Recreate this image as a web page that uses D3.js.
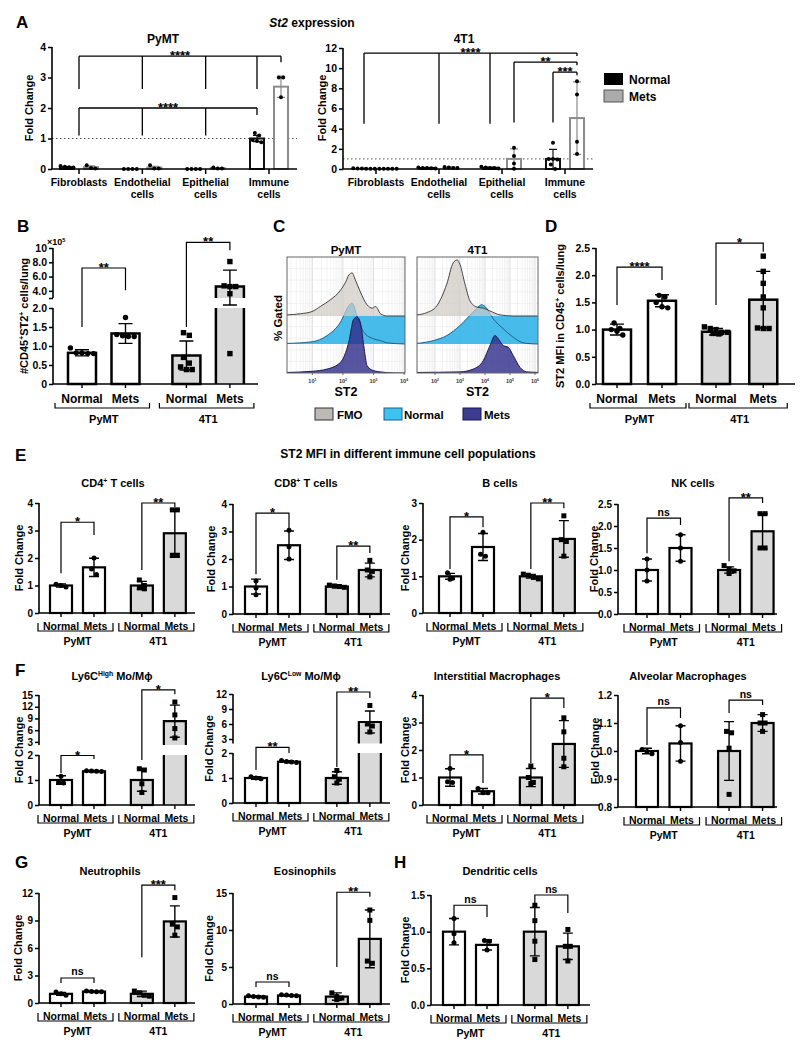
<!DOCTYPE html>
<html>
<head>
<meta charset="utf-8">
<script src="https://cdn.jsdelivr.net/npm/d3@7"></script>
<style>
  body { margin: 0; background: #fff; }
  svg text { font-family: "Liberation Sans", Arial, sans-serif; font-weight: bold; }
</style>
</head>
<body>
<svg id="fig" width="800" height="1053"></svg>
<script>
// ---------------- data ----------------
// A: St2 expression, fold change per cell type
let aCats = ["Fibroblasts", "Endothelial cells", "Epithelial cells", "Immune cells"];
let aPymtNormalMean = [0.06, 0, 0, 1.0];
let aPymtNormalSd = [0.02, 0, 0, 0.1];
let aPymtNormalPts = [[0.05, 0.1, 0.06, 0.07], [0, 0, 0, 0], [0, 0, 0, 0], [0.95, 1.1, 1.18, 0.88, 0.92]];
let aPymtMetsMean = [0.06, 0.05, 0.03, 2.7];
let aPymtMetsSd = [0.04, 0.04, 0.01, 0.35];
let aPymtMetsPts = [[0.03, 0.12, 0.02], [0.02, 0.12, 0.02], [0.02, 0.05, 0.02], [3.0, 3.0, 2.35]];
let a4t1NormalMean = [0.04, 0.1, 0.12, 1.0];
let a4t1NormalSd = [0.02, 0.04, 0.05, 0.95];
let a4t1NormalPts = [[0.05, 0.08, 0.03, 0.02, 0.04, 0.03], [0.1, 0.15, 0.1, 0.08, 0.05], [0.15, 0.22, 0.1, 0.1, 0.05], [2.6, 1.0, 1.0, 0.95, 0.45, 0.0]];
let a4t1MetsMean = [0.02, 0.14, 1.0, 5.05];
let a4t1MetsSd = [0.01, 0.05, 1.0, 3.6];
let a4t1MetsPts = [[0.02, 0.03, 0.02, 0.02, 0.03], [0.1, 0.2, 0.15, 0.1], [2.1, 1.3, 0.55, 0.02], [8.7, 7.4, 2.7, 1.5]];
let aPymtTicks = [0, 1, 2, 3, 4];
let a4t1Ticks = [0, 2, 4, 6, 8, 10, 12];
// legs: [category, side (-1 normal, 0 centre, 1 mets), leg end value]
let aPymtSig = [
  {label: "****", line: 3.7, legs: [[0, 0, 2.62], [1, 0, 2.62], [2, 0, 2.62], [3, -1, 2.62], [3, 1, 3.5]]},
  {label: "****", line: 2.0, legs: [[0, 0, 1.1], [1, 0, 1.1], [2, 0, 1.1], [3, -1, 1.77]]}
];
let a4t1Sig = [
  {label: "****", line: 11.5, legs: [[0, -1, 4.5], [1, 0, 4.5], [2, -1, 4.5], [3, 1, 11.2]]},
  {label: "**", line: 10.6, legs: [[2, 1, 4.6], [3, 1, 10.3]]},
  {label: "***", line: 9.6, legs: [[3, -1, 4.6], [3, 1, 9.3]]}
];

// bar groups: PyMT Normal, PyMT Mets, 4T1 Normal, 4T1 Mets
let conds = ["Normal", "Mets", "Normal", "Mets"];
let models = ["PyMT", "4T1"];

// B: #CD45+ST2+ cells/lung (x10^5)
let bMean = [0.82, 1.33, 0.75, 4.6];
let bSd = [0.08, 0.26, 0.38, 2.3];
let bPts = [[0.95, 0.82, 0.8, 0.8, 0.82], [1.75, 1.25, 1.25, 1.27, 1.3], [1.35, 1.28, 0.7, 0.55, 0.45, 0.38, 0.38], [8.1, 4.7, 4.6, 4.6, 3.6, 0.8]];
let bLowTicks = [0, 0.5, 1, 1.5, 2];
let bHighTicks = [3, 4, 6, 8, 10];
let bSig = [{pair: [0, 1], line: 7.2, ends: [1.5, 4.1], label: "**"}, {pair: [2, 3], line: 10.8, ends: [1.5, 9.7], label: "**"}];

// C: ST2 histograms, [log10 ST2, % of max]
let pymtFmo = [[0.17, 2], [0.61, 4], [0.99, 8], [1.26, 17], [1.59, 29], [1.92, 46], [2.1, 62], [2.19, 73], [2.3, 77], [2.41, 64], [2.57, 43], [2.79, 20], [2.96, 14], [3.07, 17], [3.23, 4], [3.45, 0], [4.05, 0]];
let pymtNormal = [[0.17, 1], [0.99, 4], [1.48, 15], [1.92, 39], [2.19, 68], [2.3, 73], [2.46, 50], [2.68, 21], [3.01, 9], [3.23, 6], [3.45, 2], [4.05, 0]];
let pymtMets = [[0.17, 1], [0.99, 3], [1.48, 7], [1.92, 19], [2.19, 55], [2.35, 96], [2.46, 100], [2.57, 90], [2.68, 49], [2.79, 13], [3.01, 4], [3.23, 2], [3.67, 0], [4.05, 0]];
let t1Fmo = [[1.27, 2], [1.67, 6], [2.07, 18], [2.47, 57], [2.73, 95], [2.89, 100], [3.0, 92], [3.2, 57], [3.4, 27], [3.67, 16], [3.93, 14], [4.2, 9], [4.6, 2], [5.13, 0], [6.15, 0]];
let t1Normal = [[1.27, 1], [1.93, 6], [2.47, 15], [3.0, 33], [3.53, 57], [3.87, 70], [4.0, 67], [4.33, 45], [4.73, 27], [5.13, 12], [5.4, 4], [5.67, 1], [6.15, 0]];
let t1Mets = [[1.27, 1], [3.0, 2], [3.53, 7], [3.93, 22], [4.2, 49], [4.4, 67], [4.53, 61], [4.73, 49], [4.93, 46], [5.13, 31], [5.4, 10], [5.67, 2], [6.15, 1]];
let pymtDecades = [1, 2, 3, 4];
let t1Decades = [2, 3, 4, 5, 6];

// D: ST2 MFI in CD45+ cells/lung
let dMean = [1.0, 1.53, 0.96, 1.55];
let dSd = [0.1, 0.11, 0.06, 0.52];
let dPts = [[1.12, 1.02, 1.0, 0.9, 0.97], [1.63, 1.6, 1.5, 1.4, 1.42], [1.05, 1.02, 1.0, 0.93, 0.92, 0.95, 0.95], [2.35, 2.07, 1.85, 1.6, 1.4, 1.03, 1.02, 1.02]];
let dTicks = [0, 0.5, 1, 1.5, 2, 2.5];
let dSig = [{pair: [0, 1], line: 2.15, ends: [1.45, 1.91], label: "****"}, {pair: [2, 3], line: 2.59, ends: [1.45, 2.43], label: "*"}];

// E: ST2 MFI fold change
let cd4Mean = [1.0, 1.66, 1.0, 2.9];
let cd4Sd = [0.06, 0.33, 0.15, 0.87];
let cd4Pts = [[1.05, 0.95, 1.0], [2.0, 1.6, 1.4], [1.2, 1.0, 0.92, 0.88], [3.75, 3.75, 2.1, 2.1]];
let cd4Sig = [{pair: [0, 1], line: 3.3, ends: [1.45, 2.84], label: "*"}, {pair: [2, 3], line: 4.0, ends: [1.56, 3.85], label: "**"}];
let cd8Mean = [1.0, 2.5, 1.0, 1.6];
let cd8Sd = [0.27, 0.52, 0.05, 0.25];
let cd8Pts = [[1.2, 0.95, 0.7], [3.05, 2.45, 2.0], [1.05, 1.0, 0.97, 1.02], [1.95, 1.6, 1.55, 1.35]];
let cd8Sig = [{pair: [0, 1], line: 3.67, ends: [1.45, 3.13], label: "*"}, {pair: [2, 3], line: 2.47, ends: [1.25, 2.22], label: "**"}];
let bcMean = [1.0, 1.8, 1.0, 2.02];
let bcSd = [0.08, 0.37, 0.05, 0.5];
let bcPts = [[1.1, 0.95, 0.92], [2.2, 1.6, 1.55], [1.06, 1.03, 0.97, 0.93], [2.65, 2.0, 1.95, 1.55]];
let bcSig = [{pair: [0, 1], line: 2.62, ends: [1.2, 2.34], label: "*"}, {pair: [2, 3], line: 3.0, ends: [1.2, 2.86], label: "**"}];
let nkMean = [1.0, 1.5, 1.0, 1.88];
let nkSd = [0.25, 0.3, 0.07, 0.4];
let nkPts = [[1.25, 1.0, 0.75], [1.8, 1.5, 1.2], [1.1, 1.02, 0.98, 0.92], [2.28, 2.28, 1.5, 1.5]];
let nkSig = [{pair: [0, 1], line: 2.18, ends: [1.38, 2.02], label: "ns"}, {pair: [2, 3], line: 2.64, ends: [1.2, 2.52], label: "**"}];

// F
let hiMean = [1.0, 1.35, 1.0, 8.3];
let hiSd = [0.17, 0.03, 0.45, 4.1];
let hiPts = [[1.15, 0.9, 0.88], [1.37, 1.35, 1.34, 1.36], [1.45, 1.4, 0.85, 0.5], [13.2, 9.9, 6.4, 4.0]];
let hiSig = [{pair: [0, 1], line: 1.98, ends: [1.28, 1.84], label: "*"}, {pair: [2, 3], line: 16.3, ends: [1.8, 15.2], label: "*"}];
let loMean = [1.0, 1.65, 1.0, 6.4];
let loSd = [0.05, 0.04, 0.25, 2.2];
let loPts = [[1.05, 1.0, 0.97], [1.7, 1.66, 1.64, 1.62], [1.3, 1.05, 0.95, 0.8], [9.7, 6.0, 5.6, 4.4]];
let loSig = [{pair: [0, 1], line: 2.06, ends: [1.32, 2.0], label: "**"}, {pair: [2, 3], line: 12.4, ends: [1.44, 11.2], label: "**"}];
let imMean = [1.0, 0.5, 1.0, 2.22];
let imSd = [0.32, 0.1, 0.33, 0.85];
let imPts = [[1.33, 0.85, 0.82], [0.6, 0.45, 0.45], [1.42, 1.0, 0.82, 0.78], [3.17, 2.66, 1.7, 1.39]];
let imSig = [{pair: [0, 1], line: 1.82, ends: [1.38, 0.8], label: "*"}, {pair: [2, 3], line: 3.89, ends: [1.53, 3.53], label: "*"}];
let amMean = [1.0, 1.027, 1.0, 1.1];
let amSd = [0.01, 0.063, 0.105, 0.03];
let amPts = [[1.005, 0.998, 0.99], [1.09, 1.03, 0.963], [1.07, 1.065, 1.01, 0.845], [1.13, 1.1, 1.1, 1.07]];
let amSig = [{pair: [0, 1], line: 1.154, ends: [1.021, 1.118], label: "ns"}, {pair: [2, 3], line: 1.182, ends: [1.136, 1.164], label: "ns"}];

// G, H
let neMean = [1.0, 1.25, 1.0, 8.9];
let neSd = [0.15, 0.05, 0.3, 1.7];
let nePts = [[1.2, 1.0, 0.85], [1.3, 1.26, 1.24, 1.22], [1.3, 1.1, 0.85, 0.75], [11.5, 8.6, 8.3, 7.4]];
let neSig = [{pair: [0, 1], line: 2.73, ends: [2.18, 2.18], label: "ns"}, {pair: [2, 3], line: 12.87, ends: [5.0, 12.3], label: "***"}];
let eoMean = [1.0, 1.15, 1.0, 8.8];
let eoSd = [0.1, 0.08, 0.5, 3.9];
let eoPts = [[1.1, 1.0, 0.95, 0.9], [1.25, 1.2, 1.15, 1.1], [1.5, 1.0, 0.8, 0.6], [12.7, 11.3, 5.8, 5.5]];
let eoSig = [{pair: [0, 1], line: 2.97, ends: [2.3, 2.3], label: "ns"}, {pair: [2, 3], line: 15.1, ends: [5.0, 14.5], label: "**"}];
let dcMean = [1.0, 0.82, 1.0, 0.8];
let dcSd = [0.18, 0.07, 0.33, 0.18];
let dcPts = [[1.18, 0.97, 0.85], [0.88, 0.87, 0.75], [1.36, 1.15, 0.87, 0.62], [1.03, 0.8, 0.8, 0.6]];
let dcSig = [{pair: [0, 1], line: 1.36, ends: [1.2, 1.2], label: "ns"}, {pair: [2, 3], line: 1.5, ends: [1.39, 1.255], label: "ns"}];

// ---------------- helpers ----------------
const svg = d3.select("#fig");

// text with ^sup^ markup
function label(g, x, y, str, size, anchor) {
  const t = g.append("text").attr("x", x).attr("y", y)
    .attr("font-size", size).attr("text-anchor", anchor || "middle");
  str.split("^").forEach((part, i) => {
    if (!part) return;
    const sp = t.append("tspan").text(part);
    if (i % 2) sp.attr("font-size", size * 0.62).attr("dy", -size * 0.38);
    else if (i > 0) sp.attr("dy", size * 0.38);
  });
  return t;
}

// spread points of similar height sideways
function swarm(vals, y, cx, r, step) {
  const pts = vals.map(v => ({v: v, py: y(v)})).sort((a, b) => a.py - b.py);
  let rows = [], cur = [];
  pts.forEach(p => {
    if (cur.length && p.py - cur[0].py > 2 * r + 0.6) { rows.push(cur); cur = []; }
    cur.push(p);
  });
  if (cur.length) rows.push(cur);
  rows.forEach(row => row.forEach((p, j) => { p.px = cx + (j - (row.length - 1) / 2) * step; }));
  return pts;
}

function mark(g, p, square, r) {
  if (square) g.append("rect").attr("x", p.px - r).attr("y", p.py - r).attr("width", 2 * r).attr("height", 2 * r).attr("fill", "#000");
  else g.append("circle").attr("cx", p.px).attr("cy", p.py).attr("r", r).attr("fill", "#000");
}

function sigText(g, x, lineY, s) {
  const star = s !== "ns";
  return label(g, x, lineY + (star ? 4 : -2.5), s, star ? 13 : 10.5).attr("font-weight", star ? "bold" : "normal");
}

function yAxis(g, y, axisX, segs, fs) {
  segs.forEach(s => {
    const ax = g.append("g").attr("transform", "translate(" + axisX + ",0)")
      .call(d3.axisLeft(y).tickValues(s.ticks).tickFormat(s.fmt).tickSize(4).tickPadding(2));
    ax.attr("font-size", fs);
    ax.select(".domain").remove();
    ax.selectAll("line").attr("stroke-width", 1.5);
    g.append("line").attr("x1", axisX).attr("x2", axisX).attr("y1", y(s.from)).attr("y2", y(s.to))
      .attr("stroke", "#000").attr("stroke-width", 1.6);
  });
}

// ---------------- panel A ----------------
function panelA(o) {
  const g = svg.append("g");
  const y = d3.scaleLinear().domain([0, o.yMax]).range([169, o.yTop]);
  const x = d3.scalePoint().domain(aCats).range(o.catRange);
  const off = 12, bw = 14;
  const pos = (c, s) => x(aCats[c]) + s * off;

  g.append("line").attr("x1", o.axisX).attr("x2", o.xEnd).attr("y1", y(1)).attr("y2", y(1))
    .attr("stroke", "#555").attr("stroke-width", 1).attr("stroke-dasharray", "1.5,2.5");

  const series = [
    {mean: o.nMean, sd: o.nSd, pts: o.nPts, side: -1, color: "#111"},
    {mean: o.mMean, sd: o.mSd, pts: o.mPts, side: 1, color: "#8c8c8c"}
  ];
  series.forEach(s => {
    s.mean.forEach((m, c) => {
      const cx = pos(c, s.side);
      if (y(0) - y(m) > 0.5)
        g.append("rect").attr("x", cx - bw / 2).attr("y", y(m)).attr("width", bw).attr("height", y(0) - y(m))
          .attr("fill", "#fff").attr("stroke", s.color).attr("stroke-width", 2);
      const lo = y(Math.max(0, m - s.sd[c])), hi = y(m + s.sd[c]);
      g.append("path").attr("d", `M${cx},${lo}V${hi}M${cx - 4},${hi}H${cx + 4}M${cx - 4},${lo}H${cx + 4}`)
        .attr("stroke", s.color).attr("stroke-width", 1.2).attr("fill", "none");
      swarm(s.pts[c], y, cx, 2, 4.3).forEach(p => mark(g, p, false, 2));
    });
  });

  yAxis(g, y, o.axisX, [{from: 0, to: o.yMax, ticks: o.ticks, fmt: d3.format("d")}], 10.5);
  g.append("line").attr("x1", o.axisX).attr("x2", o.xEnd).attr("y1", y(0)).attr("y2", y(0))
    .attr("stroke", "#000").attr("stroke-width", 1.6);
  aCats.forEach(c => {
    g.append("line").attr("x1", x(c)).attr("x2", x(c)).attr("y1", y(0)).attr("y2", y(0) + 5)
      .attr("stroke", "#000").attr("stroke-width", 1.5);
    const words = c.split(" ");
    label(g, x(c), 186, words[0], 10.5);
    if (words.length > 1) label(g, x(c), 198, words.slice(1).join(" "), 10.5);
  });

  o.sig.forEach(s => {
    const xs = s.legs.map(l => pos(l[0], l[1]));
    let d = `M${d3.min(xs)},${y(s.line)}H${d3.max(xs)}`;
    s.legs.forEach((l, i) => { d += `M${xs[i]},${y(s.line)}V${y(l[2])}`; });
    g.append("path").attr("d", d).attr("stroke", "#000").attr("stroke-width", 1.3).attr("fill", "none");
    sigText(g, (d3.min(xs) + d3.max(xs)) / 2, y(s.line), s.label);
  });

  label(g, o.titleX, 43, o.title, 12);
  label(g, 0, 0, "Fold Change", 11).attr("transform", `translate(${o.yLabX},108) rotate(-90)`);
}

// ---------------- bar panels B, D, E-H ----------------
function barPanel(o) {
  const g = svg.append("g");
  const y = d3.scaleLinear().domain(o.yDomain).range(o.yRange);
  const slots = o.slots || [0, 1, 2.45, 3.45];
  const x = d3.scaleLinear().domain([0, 1]).range([o.x0, o.x0 + o.unit]);
  const cx = slots.map(s => x(s));
  const y0 = y(o.yDomain[0]);
  const bw = o.barW || 22, sw = o.sw || 2.2, cap = o.cap || 5, r = o.r || 2.5, step = o.step || 5;
  const brk = o.breakAt;

  o.mean.forEach((m, i) => {
    const fill = i < 2 ? "#fff" : "#d9d9d9";
    const x1 = cx[i] - bw / 2;
    if (brk && m > brk[1]) {
      g.append("rect").attr("x", x1).attr("width", bw).attr("y", y(brk[0])).attr("height", y0 - y(brk[0])).attr("fill", fill);
      g.append("rect").attr("x", x1).attr("width", bw).attr("y", y(m)).attr("height", y(brk[1]) - y(m)).attr("fill", fill);
      g.append("path")
        .attr("d", `M${x1},${y0}V${y(brk[0])}M${x1 + bw},${y(brk[0])}V${y0}M${x1},${y(brk[1])}V${y(m)}H${x1 + bw}V${y(brk[1])}`)
        .attr("fill", "none").attr("stroke", "#000").attr("stroke-width", sw);
    } else {
      g.append("rect").attr("x", x1).attr("width", bw).attr("y", y(m)).attr("height", y0 - y(m))
        .attr("fill", fill).attr("stroke", "#000").attr("stroke-width", sw);
    }
  });

  o.mean.forEach((m, i) => {
    const lo = y(m - o.sd[i]), hi = y(m + o.sd[i]), c = cx[i];
    g.append("path").attr("d", `M${c},${lo}V${hi}M${c - cap},${hi}H${c + cap}M${c - cap},${lo}H${c + cap}`)
      .attr("stroke", "#000").attr("stroke-width", 1.4).attr("fill", "none");
  });
  o.pts.forEach((vals, i) => swarm(vals, y, cx[i], r, step).forEach(p => mark(g, p, i >= 2, r)));

  yAxis(g, y, o.axisX, o.segs, o.tickFs || 10);
  g.append("line").attr("x1", o.axisX).attr("x2", o.xEnd).attr("y1", y0).attr("y2", y0)
    .attr("stroke", "#000").attr("stroke-width", 1.6);
  cx.forEach(c => g.append("line").attr("x1", c).attr("x2", c).attr("y1", y0).attr("y2", y0 + 4)
    .attr("stroke", "#000").attr("stroke-width", 1.4));

  const lab = o.lab || [16.5, 18, 10, 32];
  const fs = o.fs || 10.5;
  conds.forEach((c, i) => label(g, cx[i] + (o.labShift || [0, 1.5, 0, 1.5])[i], y0 + lab[0], c, fs));
  const ext = o.ext || [23, 19];
  models.forEach((m, k) => {
    const a = cx[2 * k] - ext[0], b = cx[2 * k + 1] + ext[1];
    g.append("path").attr("d", `M${a},${y0 + lab[2]}V${y0 + lab[1]}H${b}V${y0 + lab[2]}`)
      .attr("stroke", "#000").attr("stroke-width", 1.2).attr("fill", "none");
    label(g, (cx[2 * k] + cx[2 * k + 1]) / 2, y0 + lab[3], m, o.gfs || 10.5);
  });

  o.sig.forEach(s => {
    const xa = cx[s.pair[0]], xb = cx[s.pair[1]];
    g.append("path").attr("d", `M${xa},${y(s.ends[0])}V${y(s.line)}H${xb}V${y(s.ends[1])}`)
      .attr("stroke", "#000").attr("stroke-width", 1.2).attr("fill", "none");
    sigText(g, (xa + xb) / 2, y(s.line), s.label);
  });

  if (o.title) label(g, o.titleX, o.titleY, o.title, o.titleFs || 11);
  const ym = (o.yRange[0] + o.yRange[o.yRange.length - 1]) / 2;
  label(g, 0, 0, o.yLabel || "Fold Change", o.yLabFs || 11).attr("transform", `translate(${o.yLabX},${ym}) rotate(-90)`);
}

// ---------------- panel C ----------------
function histPanel(o) {
  const g = svg.append("g");
  const x = d3.scaleLinear().domain(o.dom).range([o.x1, o.x2]);
  const h = d3.scaleLinear().domain([0, 100]).range([0, 56]);
  const top = 257, bot = 373, bases = [316, 344, 373];
  const id = "clip" + o.key;
  g.append("clipPath").attr("id", id).append("rect")
    .attr("x", o.x1).attr("y", top).attr("width", o.x2 - o.x1).attr("height", bot - top);
  const inner = g.append("g").attr("clip-path", `url(#${id})`);
  // log grid
  for (let k = Math.floor(o.dom[0]); k <= Math.ceil(o.dom[1]); k++) {
    for (let m = 1; m <= 9; m++) {
      const e = k + Math.log10(m);
      if (e < o.dom[0] || e > o.dom[1]) continue;
      inner.append("line").attr("x1", x(e)).attr("x2", x(e)).attr("y1", top).attr("y2", bot)
        .attr("stroke", m === 1 ? "#d0d0d0" : "#ececec").attr("stroke-width", 0.7);
    }
  }
  d3.range(1, 10).forEach(j => {
    const yy = top + j * (bot - top) / 10;
    inner.append("line").attr("x1", o.x1).attr("x2", o.x2).attr("y1", yy).attr("y2", yy)
      .attr("stroke", "#ececec").attr("stroke-width", 0.7);
  });

  const curve = d3.curveMonotoneX;
  // Normal
  const nb = bases[1];
  const peak = d3.maxIndex(o.normal, d => d[1]);
  inner.append("path").datum(o.normal)
    .attr("d", d3.area().x(d => x(d[0])).y0(nb)
      .y1((d, i) => i >= peak ? Math.min(nb - h(d[1]), bases[0]) : nb - h(d[1])).curve(curve))
    .attr("fill", "#33b5e8").attr("fill-opacity", 0.9);
  inner.append("path").datum(o.normal)
    .attr("d", d3.line().x(d => x(d[0])).y(d => nb - h(d[1])).curve(curve))
    .attr("fill", "none").attr("stroke", "#1d5f8c").attr("stroke-width", 1);
  // FMO
  inner.append("path").datum(o.fmo)
    .attr("d", d3.area().x(d => x(d[0])).y0(bases[0]).y1(d => bases[0] - h(d[1])).curve(curve))
    .attr("fill", "#cfcbc4").attr("fill-opacity", 0.7);
  inner.append("path").datum(o.fmo)
    .attr("d", d3.line().x(d => x(d[0])).y(d => bases[0] - h(d[1])).curve(curve))
    .attr("fill", "none").attr("stroke", "#333").attr("stroke-width", 0.9);
  // Mets
  inner.append("path").datum(o.mets)
    .attr("d", d3.area().x(d => x(d[0])).y0(bases[2]).y1(d => bases[2] - h(d[1])).curve(curve))
    .attr("fill", "#2e2a8a").attr("fill-opacity", 0.8);
  inner.append("path").datum(o.mets)
    .attr("d", d3.line().x(d => x(d[0])).y(d => bases[2] - h(d[1])).curve(curve))
    .attr("fill", "none").attr("stroke", "#1a1850").attr("stroke-width", 1);

  g.append("rect").attr("x", o.x1).attr("y", top).attr("width", o.x2 - o.x1).attr("height", bot - top)
    .attr("fill", "none").attr("stroke", "#666").attr("stroke-width", 1);
  o.decades.forEach(e => {
    g.append("line").attr("x1", x(e)).attr("x2", x(e)).attr("y1", bot).attr("y2", bot + 2).attr("stroke", "#666");
    label(g, x(e), 383, "10^" + e + "^", 5.5).attr("font-weight", "normal").attr("fill", "#333");
  });
  label(g, (o.x1 + o.x2) / 2, 254, o.title, 11.5);
  label(g, (o.x1 + o.x2) / 2, 396, "ST2", 12.5);
}

// ---------------- draw ----------------
// headers / panel letters
label(svg, 16, 28, "A", 17, "start");
const st2 = svg.append("text").attr("x", 312).attr("y", 27).attr("font-size", 12).attr("text-anchor", "middle");
st2.append("tspan").attr("font-style", "italic").text("St2");
st2.append("tspan").text(" expression");
label(svg, 17, 232, "B", 17, "start");
label(svg, 273, 232, "C", 17, "start");
label(svg, 545, 232, "D", 17, "start");
label(svg, 15, 461, "E", 17, "start");
label(svg, 408, 458, "ST2 MFI in different immune cell populations", 12);
label(svg, 15, 676, "F", 17, "start");
label(svg, 15, 868, "G", 17, "start");
label(svg, 394, 868, "H", 17, "start");

panelA({axisX: 52, xEnd: 297, yMax: 4, yTop: 47, catRange: [79, 269], ticks: aPymtTicks,
  nMean: aPymtNormalMean, nSd: aPymtNormalSd, nPts: aPymtNormalPts,
  mMean: aPymtMetsMean, mSd: aPymtMetsSd, mPts: aPymtMetsPts, sig: aPymtSig,
  title: "PyMT", titleX: 163, yLabX: 33});
panelA({axisX: 343, xEnd: 593, yMax: 12, yTop: 48, catRange: [376, 565], ticks: a4t1Ticks,
  nMean: a4t1NormalMean, nSd: a4t1NormalSd, nPts: a4t1NormalPts,
  mMean: a4t1MetsMean, mSd: a4t1MetsSd, mPts: a4t1MetsPts, sig: a4t1Sig,
  title: "4T1", titleX: 464, yLabX: 326});

// legend A
svg.append("rect").attr("x", 604).attr("y", 73).attr("width", 19).attr("height", 12).attr("fill", "#000");
svg.append("rect").attr("x", 604).attr("y", 90).attr("width", 19).attr("height", 12).attr("fill", "#ababab").attr("stroke", "#555").attr("stroke-width", 1);
label(svg, 629, 84, "Normal", 12, "start");
label(svg, 629, 101, "Mets", 12, "start");

// B
const fmtLow = v => v === 0 ? "0" : d3.format(".1f")(v);
const fmtHigh = v => v === 3 ? "" : v >= 10 ? "10" : d3.format(".1f")(v);
barPanel({axisX: 53, xEnd: 258, x0: 82, unit: 43.5, slots: [0, 1, 2.4, 3.4], barW: 28, sw: 2.5, cap: 7, r: 2.7, step: 5.8,
  yDomain: [0, 2, 3, 10], yRange: [384, 308, 298, 248], breakAt: [2, 3],
  segs: [{from: 0, to: 2, ticks: bLowTicks, fmt: fmtLow}, {from: 3, to: 10, ticks: bHighTicks, fmt: fmtHigh}],
  mean: bMean, sd: bSd, pts: bPts, sig: bSig, fs: 12, gfs: 11, tickFs: 10.5,
  lab: [19, 24, 19, 39], ext: [27, 24], labShift: [0, 0, 0, 0],
  yLabel: "#CD45^+^ST2^+^ cells/lung", yLabX: 28, yLabFs: 11});
label(svg, 47, 245, "×10^5^", 9, "start").attr("font-weight", "normal");

// C
histPanel({key: "p", x1: 287, x2: 405, dom: [0.17, 4.03], fmo: pymtFmo, normal: pymtNormal, mets: pymtMets, decades: pymtDecades, title: "PyMT"});
histPanel({key: "t", x1: 417, x2: 538, dom: [1.28, 6.12], fmo: t1Fmo, normal: t1Normal, mets: t1Mets, decades: t1Decades, title: "4T1"});
label(svg, 0, 0, "% Gated", 11.5).attr("transform", "translate(282,318) rotate(-90)");
svg.append("rect").attr("x", 315).attr("y", 408).attr("width", 18).attr("height", 12).attr("fill", "#bdbab6").attr("stroke", "#333");
svg.append("rect").attr("x", 384).attr("y", 408).attr("width", 18).attr("height", 12).attr("fill", "#3cc3ef").attr("stroke", "#1d5f8c");
svg.append("rect").attr("x", 463).attr("y", 408).attr("width", 18).attr("height", 12).attr("fill", "#3d3b8e").attr("stroke", "#1a1850");
label(svg, 337, 419, "FMO", 11.5, "start");
label(svg, 404, 419, "Normal", 11.5, "start");
label(svg, 484, 419, "Mets", 11.5, "start");

// D
barPanel({axisX: 596, xEnd: 795, x0: 617, unit: 45, slots: [0, 1, 2.2, 3.25], barW: 28, sw: 2.5, cap: 7, r: 2.7, step: 5.8,
  yDomain: [0, 2.5], yRange: [384, 248],
  segs: [{from: 0, to: 2.5, ticks: dTicks, fmt: d3.format(".1f")}],
  mean: dMean, sd: dSd, pts: dPts, sig: dSig, fs: 12, gfs: 11, tickFs: 10.5,
  lab: [19, 24, 19, 39], ext: [27, 24], labShift: [0, 0, 0, 0],
  yLabel: "ST2 MFI in CD45^+^ cells/lung", yLabX: 564, yLabFs: 11});

// E
const fInt = d3.format("d"), f1 = d3.format(".1f");
barPanel({axisX: 39, xEnd: 195, x0: 61, unit: 33, yDomain: [0, 4], yRange: [613, 503],
  segs: [{from: 0, to: 4, ticks: [0, 1, 2, 3, 4], fmt: fInt}],
  mean: cd4Mean, sd: cd4Sd, pts: cd4Pts, sig: cd4Sig, title: "CD4^+^ T cells", titleX: 113, titleY: 487, yLabX: 23});
barPanel({axisX: 233, xEnd: 390, x0: 256, unit: 33, yDomain: [0, 4], yRange: [614, 504],
  segs: [{from: 0, to: 4, ticks: [0, 1, 2, 3, 4], fmt: fInt}],
  mean: cd8Mean, sd: cd8Sd, pts: cd8Pts, sig: cd8Sig, title: "CD8^+^ T cells", titleX: 306, titleY: 487, yLabX: 215});
barPanel({axisX: 423, xEnd: 600, x0: 450, unit: 33, yDomain: [0, 3], yRange: [613, 503],
  segs: [{from: 0, to: 3, ticks: [0, 1, 2, 3], fmt: fInt}],
  mean: bcMean, sd: bcSd, pts: bcPts, sig: bcSig, title: "B cells", titleX: 500, titleY: 487, yLabX: 409});
barPanel({axisX: 618, xEnd: 777, x0: 647, unit: 33.5, yDomain: [0, 2.5], yRange: [614, 504],
  segs: [{from: 0, to: 2.5, ticks: [0, 0.5, 1, 1.5, 2, 2.5], fmt: f1}],
  mean: nkMean, sd: nkSd, pts: nkPts, sig: nkSig, title: "NK cells", titleX: 693, titleY: 487, yLabX: 598});

// F
barPanel({axisX: 39, xEnd: 195, x0: 61, unit: 33, yDomain: [0, 2, 2.2, 15], yRange: [805, 755, 745, 695], breakAt: [2, 2.2],
  segs: [{from: 0, to: 2, ticks: [0, 1, 2], fmt: fInt}, {from: 2.2, to: 15, ticks: [3, 6, 9, 12, 15], fmt: fInt}],
  mean: hiMean, sd: hiSd, pts: hiPts, sig: hiSig, title: "Ly6C^High^ Mo/Mϕ", titleX: 112, titleY: 680, yLabX: 23});
barPanel({axisX: 233, xEnd: 390, x0: 256, unit: 33, yDomain: [0, 2, 2.1, 12], yRange: [803, 753, 743.5, 694], breakAt: [2, 2.1],
  segs: [{from: 0, to: 2, ticks: [0, 1, 2], fmt: fInt}, {from: 2.1, to: 12, ticks: [3, 6, 9, 12], fmt: fInt}],
  mean: loMean, sd: loSd, pts: loPts, sig: loSig, title: "Ly6C^Low^ Mo/Mϕ", titleX: 301, titleY: 680, yLabX: 213});
barPanel({axisX: 423, xEnd: 600, x0: 450, unit: 33, yDomain: [0, 4], yRange: [805, 695],
  segs: [{from: 0, to: 4, ticks: [0, 1, 2, 3, 4], fmt: fInt}],
  mean: imMean, sd: imSd, pts: imPts, sig: imSig, title: "Interstitial Macrophages", titleX: 497, titleY: 680, yLabX: 409});
barPanel({axisX: 618, xEnd: 777, x0: 647, unit: 33.5, yDomain: [0.8, 1.2], yRange: [807, 695],
  segs: [{from: 0.8, to: 1.2, ticks: [0.8, 0.9, 1.0, 1.1, 1.2], fmt: f1}],
  mean: amMean, sd: amSd, pts: amPts, sig: amSig, title: "Alveolar Macrophages", titleX: 688, titleY: 680, yLabX: 599});

// G, H
barPanel({axisX: 39, xEnd: 195, x0: 61, unit: 33, yDomain: [0, 12], yRange: [1003, 893],
  segs: [{from: 0, to: 12, ticks: [0, 3, 6, 9, 12], fmt: fInt}],
  mean: neMean, sd: neSd, pts: nePts, sig: neSig, title: "Neutrophils", titleX: 110, titleY: 875, yLabX: 22});
barPanel({axisX: 233, xEnd: 390, x0: 256, unit: 33, yDomain: [0, 15], yRange: [1004, 893],
  segs: [{from: 0, to: 15, ticks: [0, 5, 10, 15], fmt: fInt}],
  mean: eoMean, sd: eoSd, pts: eoPts, sig: eoSig, title: "Eosinophils", titleX: 305, titleY: 875, yLabX: 213});
barPanel({axisX: 431, xEnd: 590, x0: 454, unit: 33, yDomain: [0, 1.5], yRange: [1005, 895],
  segs: [{from: 0, to: 1.5, ticks: [0, 0.5, 1, 1.5], fmt: f1}],
  mean: dcMean, sd: dcSd, pts: dcPts, sig: dcSig, title: "Dendritic cells", titleX: 500, titleY: 875, yLabX: 409});
</script>
</body>
</html>
